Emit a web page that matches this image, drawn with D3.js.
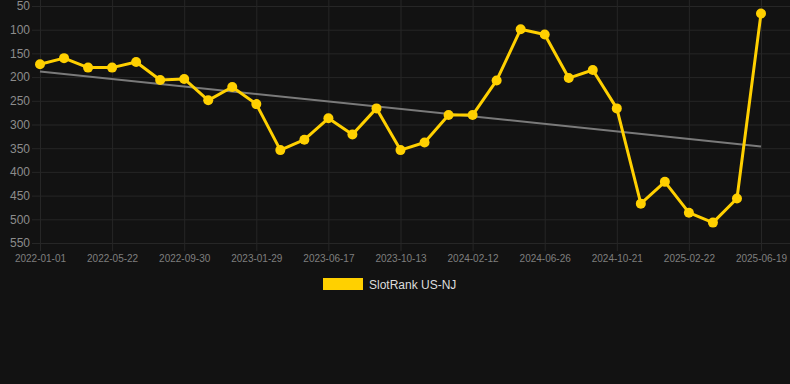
<!DOCTYPE html>
<html>
<head>
<meta charset="utf-8">
<script src="https://cdn.jsdelivr.net/npm/d3@7"></script>
<style>
  html, body { margin: 0; padding: 0; background: #121212; }
  svg { display: block; }
</style>
</head>
<body>
<svg id="chart" width="790" height="384"></svg>
<script>
const categories = [
  "2022-01-01","2022-02-17","2022-04-05","2022-05-22","2022-07-05","2022-08-17",
  "2022-09-30","2022-11-09","2022-12-19","2023-01-29","2023-03-16","2023-05-02",
  "2023-06-17","2023-07-27","2023-09-04","2023-10-13","2023-11-22","2024-01-02",
  "2024-02-12","2024-03-28","2024-05-12","2024-06-26","2024-08-04","2024-09-12",
  "2024-10-21","2024-12-01","2025-01-11","2025-02-22","2025-04-01","2025-05-10",
  "2025-06-19"
];
const rankValues = [
  173,160,180,180,168,206,204,249,221,257,
  354,332,287,321,266,354,338,280,280,207,
  99,110,202,185,266,467,421,486,507,456,
  66
];
const xTickLabels = ["2022-01-01","2022-05-22","2022-09-30","2023-01-29","2023-06-17",
  "2023-10-13","2024-02-12","2024-06-26","2024-10-21","2025-02-22","2025-06-19"];
const yTicks = [50,100,150,200,250,300,350,400,450,500,550];
const seriesName = "SlotRank US-NJ";

(function () {
const svg = d3.select("#chart");
const W = 790;
const pLeft = 40, pRight = 761, pTop = 6, pBottom = 243;

const x = d3.scalePoint().domain(categories).range([pLeft, pRight]);
const y = d3.scaleLinear().domain([50, 550]).range([pTop, pBottom]);

svg.append("rect").attr("width", 790).attr("height", 384).attr("fill", "#121212");

// horizontal grid + y labels
const yAxis = d3.axisLeft(y).tickValues(yTicks).tickSize(-(W - 32)).tickPadding(2);
const gy = svg.append("g").attr("transform", "translate(32,0)").call(yAxis);
gy.select(".domain").remove();
gy.selectAll(".tick line").attr("stroke", "#262626").attr("stroke-width", 1);
gy.selectAll(".tick text").attr("fill", "#8c8c8c")
  .attr("font-family", "Liberation Sans, Arial, sans-serif").attr("font-size", 12)
  .attr("x", -2);

// vertical grid + x labels
const xAxis = d3.axisBottom(x).tickValues(xTickLabels).tickSize(-(pBottom + 8)).tickPadding(10);
const gx = svg.append("g").attr("transform", `translate(0,${pBottom + 8})`).call(xAxis);
gx.select(".domain").remove();
gx.selectAll(".tick line").attr("stroke", "#262626").attr("stroke-width", 1);
gx.selectAll(".tick text").attr("fill", "#7f7f7f")
  .attr("font-family", "Liberation Sans, Arial, sans-serif").attr("font-size", 10)
  .attr("y", 4).attr("dy", "0.71em");

// trend line (least squares)
const n = rankValues.length;
const idx = d3.range(n);
const mx = d3.mean(idx), my = d3.mean(rankValues);
const slope = d3.sum(idx, i => (i - mx) * (rankValues[i] - my)) / d3.sum(idx, i => (i - mx) ** 2);
const icpt = my - slope * mx;
svg.append("line")
  .attr("x1", x(categories[0])).attr("y1", y(icpt))
  .attr("x2", x(categories[n - 1])).attr("y2", y(icpt + slope * (n - 1)))
  .attr("stroke", "#7a7a7a").attr("stroke-width", 2);

const gold = "#FFD000";
const line = d3.line().x((d, i) => x(categories[i])).y(d => y(d));
svg.append("path").datum(rankValues).attr("d", line)
  .attr("fill", "none").attr("stroke", gold).attr("stroke-width", 3)
  .attr("stroke-linejoin", "round");

svg.append("g").selectAll("circle").data(rankValues).join("circle")
  .attr("cx", (d, i) => x(categories[i])).attr("cy", d => y(d))
  .attr("r", 5).attr("fill", gold);

// legend
const lg = svg.append("g");
lg.append("rect").attr("x", 323).attr("y", 278).attr("width", 40).attr("height", 12)
  .attr("fill", gold);
lg.append("text").attr("x", 369).attr("y", 288.5).text(seriesName)
  .attr("fill", "#dddddd").attr("font-family", "Liberation Sans, Arial, sans-serif")
  .attr("font-size", 12);
})();
</script>
</body>
</html>
